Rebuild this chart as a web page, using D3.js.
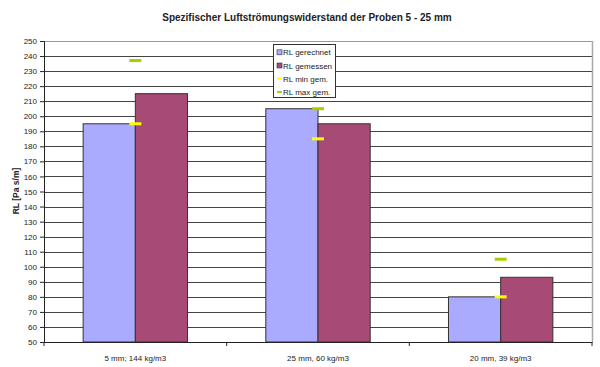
<!DOCTYPE html>
<html>
<head>
<meta charset="utf-8">
<script src="https://cdn.jsdelivr.net/npm/d3@7"></script>
<style>
body{margin:0;background:#fff;}
text{font-family:"Liberation Sans",Arial,sans-serif;fill:#222;}
</style>
</head>
<body>
<svg id="chart"></svg>
<script>
// RL chart

w=600;
h=367;
var svg=d3.select("#chart").attr("width",w).attr("height",h);

// data

categories=["5 mm; 144 kg/m3","25 mm, 60 kg/m3","20 mm, 39 kg/m3"];
rlGerechnet=[195,205,80];
rlGemessen=[215,195,93];
rlMin=[195,185,80];
rlMax=[237,205,105];
yTicks=d3.range(50,251,10);
legendNames=["RL gerechnet","RL gemessen","RL min gem.","RL max gem."];
legendColors=["#aaaaff","#a84a76","#ffff00","#aacc00"];

// scales

var x=d3.scaleBand().domain(categories).range([44,592]);
var y=d3.scaleLinear().domain([50,250]).range([342,41]);
var bw=x.bandwidth()/3.5;

// grid

svg.selectAll(".grid").data(yTicks.slice(1)).enter().append("line")
	.attr("x1",44).attr("x2",592)
	.attr("y1",function(d) {return Math.round(y(d))+0.5;})
	.attr("y2",function(d) {return Math.round(y(d))+0.5;})
	.style("stroke",function(d) {return d==250?"#999":"#444";})
	.style("stroke-width",1);

svg.append("line").attr("x1",592.5).attr("x2",592.5).attr("y1",41).attr("y2",342)
	.style("stroke","#aaa").style("stroke-width",1.5);

// bars

function bars(vals,col,off) {
	svg.selectAll(null).data(vals).enter().append("rect")
		.attr("x",function(d,i) {return x(categories[i])+bw*0.75+off*bw;})
		.attr("y",function(d) {return y(d);})
		.attr("width",bw)
		.attr("height",function(d) {return y(50)-y(d);})
		.style("fill",col).style("stroke","#333").style("stroke-width",1);
}
bars(rlGerechnet,legendColors[0],0);
bars(rlGemessen,legendColors[1],1);

// min / max markers

function marks(vals,col) {
	svg.selectAll(null).data(vals).enter().append("rect")
		.attr("x",function(d,i) {return x(categories[i])+x.bandwidth()/2-6;})
		.attr("y",function(d) {return y(d)-1.5;})
		.attr("width",12).attr("height",3)
		.style("fill",col);
}
marks(rlMin,legendColors[2]);
marks(rlMax,legendColors[3]);

// axes

var yAxis=svg.append("g").attr("transform","translate(44,0)")
	.call(d3.axisLeft(y).tickValues(yTicks).tickSize(4).tickPadding(3));
var xAxis=svg.append("g").attr("transform","translate(0,342)")
	.call(d3.axisBottom(x).tickSize(0).tickPadding(13));
[yAxis,xAxis].forEach(function(a) {
	a.select(".domain").style("stroke","#222");
	a.selectAll("text").style("font-size","8px").style("font-family","Liberation Sans, Arial, sans-serif").style("fill","#222");
	a.selectAll("line").style("stroke","#222");
});
svg.selectAll(".xtick").data([44,226.7,409.3,592]).enter().append("line")
	.attr("x1",function(d) {return d;}).attr("x2",function(d) {return d;})
	.attr("y1",342).attr("y2",346).style("stroke","#222");

// titles

svg.append("text").attr("x",307).attr("y",21).attr("text-anchor","middle")
	.style("font-size","10px").style("font-weight","bold")
	.text("Spezifischer Luftströmungswiderstand der Proben 5 - 25 mm");
svg.append("text").attr("transform","translate(19,191) rotate(-90)").attr("text-anchor","middle")
	.style("font-size","8.5px").style("font-weight","bold")
	.text("RL [Pa s/m]");

// legend

var lg=svg.append("g");
lg.append("rect").attr("x",273.5).attr("y",44.5).attr("width",62).attr("height",53)
	.style("fill","#fff").style("stroke","#333");
var li=lg.selectAll(".li").data(legendNames).enter().append("g")
	.attr("transform",function(d,i) {return "translate(277,"+(52.3+i*13.2)+")";});
li.append("rect")
	.attr("x",0)
	.attr("y",function(d,i) {return i<2?-2.5:-1;})
	.attr("width",5)
	.attr("height",function(d,i) {return i<2?5:2;})
	.style("fill",function(d,i) {return legendColors[i];})
	.style("stroke",function(d,i) {return i<2?"#333":"none";})
	.style("stroke-width",0.6);
li.append("text").attr("x",6).attr("y",3).style("font-size","8px")
	.text(function(d) {return d;});
</script>
</body>
</html>
